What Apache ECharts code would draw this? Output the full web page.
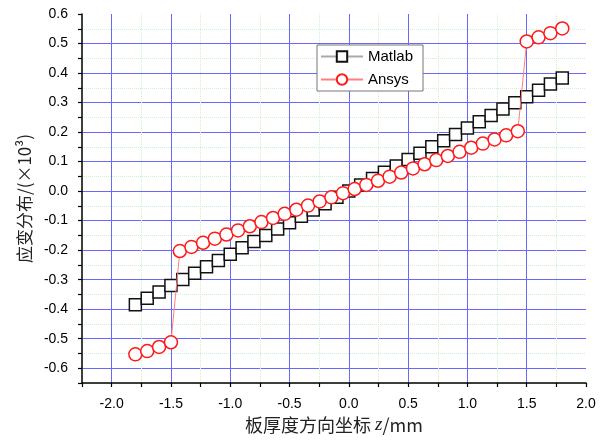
<!DOCTYPE html>
<html>
<head>
<meta charset="utf-8">
<script src="https://cdn.jsdelivr.net/npm/echarts@6/dist/echarts.min.js"></script>
<style>
  html, body { margin: 0; padding: 0; background: #fff; }
  #chart { width: 605px; height: 441px; }
</style>
</head>
<body>
<div id="chart"></div>
<script>
// Matlab 结果
var matlabX = [-1.8, -1.7, -1.6, -1.5, -1.4, -1.3, -1.2, -1.1, -1.0, -0.9, -0.8, -0.7, -0.6, -0.5, -0.4, -0.3, -0.2, -0.1, 0,
  0.1, 0.2, 0.3, 0.4, 0.5, 0.6, 0.7, 0.8, 0.9, 1.0, 1.1, 1.2, 1.3, 1.4, 1.5, 1.6, 1.7, 1.8]
var matlabY = [-0.385, -0.363, -0.342, -0.320, -0.299, -0.278, -0.256, -0.235, -0.214, -0.192, -0.171, -0.150, -0.128, -0.107, -0.085, -0.064, -0.043, -0.021, 0,
  0.021, 0.043, 0.064, 0.085, 0.107, 0.128, 0.150, 0.171, 0.192, 0.214, 0.235, 0.256, 0.278, 0.299, 0.320, 0.342, 0.363, 0.383]
// Ansys 结果
var ansysX = [-1.8, -1.7, -1.6, -1.5,
  -1.425, -1.327, -1.229, -1.130, -1.032, -0.934, -0.835, -0.737, -0.639, -0.541, -0.442, -0.344, -0.246, -0.147, -0.049,
  0.049, 0.147, 0.246, 0.344, 0.442, 0.541, 0.639, 0.737, 0.835, 0.934, 1.032, 1.130, 1.229, 1.327, 1.425,
  1.5, 1.6, 1.7, 1.8]
var ansysY = [-0.553, -0.542, -0.528, -0.512,
  -0.203, -0.189, -0.175, -0.161, -0.147, -0.133, -0.119, -0.105, -0.091, -0.077, -0.063, -0.049, -0.035, -0.021, -0.007,
  0.007, 0.021, 0.035, 0.049, 0.063, 0.077, 0.091, 0.105, 0.119, 0.133, 0.147, 0.161, 0.175, 0.189, 0.203,
  0.507, 0.521, 0.535, 0.551]

var xMin = -2.25
var xMax = 2.0
var yMin = -0.65
var yMax = 0.6

function pairs (xs, ys) {
  return xs.map(function (x, i) { return [x, ys[i]] })
}

var labelFont = 'Liberation Sans, Arial, sans-serif'
var blue = '#6868ff'
var green = '#cdf2cd'
var clear = 'rgba(0,0,0,0)'

var chart = echarts.init(document.getElementById('chart'))

var option = {
  backgroundColor: '#fff',
  animation: false,
  grid: { left: 82, right: 19, top: 14, bottom: 58 },
  legend: {
    orient: 'vertical',
    left: 317,
    top: 45,
    backgroundColor: '#fff',
    borderColor: '#777',
    borderWidth: 1,
    borderRadius: 0,
    padding: [4, 10, 4, 3],
    itemWidth: 42,
    itemHeight: 13,
    itemGap: 8,
    textStyle: { fontFamily: labelFont, fontSize: 15, color: '#000' },
    data: ['Matlab', 'Ansys']
  },
  xAxis: [
    {
      type: 'value',
      min: xMin,
      max: xMax,
      interval: 0.25,
      name: '{a|板厚度方向坐标 }{b|z}{a|/mm}',
      nameLocation: 'middle',
      nameGap: 23,
      nameTextStyle: {
        rich: {
          a: { fontFamily: 'Noto Sans CJK SC', fontSize: 18, color: '#222' },
          b: { fontFamily: 'Liberation Serif', fontStyle: 'italic', fontSize: 19, color: '#222' }
        }
      },
      axisLine: { onZero: false, lineStyle: { color: '#000', width: 1.5 } },
      axisTick: { inside: false, length: 4, lineStyle: { color: '#000', width: 1.2 } },
      axisLabel: {
        margin: 14,
        fontFamily: labelFont,
        fontSize: 14,
        color: '#000',
        formatter: function (v) {
          if (v < -2.1) return ''
          return Math.abs(v * 2 - Math.round(v * 2)) < 1e-6 ? (Math.round(v * 10) / 10).toFixed(1) : ''
        }
      },
      splitLine: { show: true, showMaxLine: false, lineStyle: { color: [green, clear], type: 'dotted', width: 1 } }
    },
    {
      type: 'value',
      min: xMin,
      max: xMax,
      interval: 0.25,
      axisLine: { show: false },
      axisTick: { show: false },
      axisLabel: { show: false },
      splitLine: { show: true, showMaxLine: false, lineStyle: { color: [clear, blue], width: 1 } }
    }
  ],
  yAxis: [
    {
      type: 'value',
      min: yMin,
      max: yMax,
      interval: 0.05,
      name: '应变分布/(×10³)',
      nameLocation: 'middle',
      nameRotate: 90,
      nameGap: 44,
      nameTextStyle: { fontFamily: 'Noto Sans CJK SC', fontSize: 17, color: '#222' },
      axisLine: { onZero: false, lineStyle: { color: '#000', width: 1.5 } },
      axisTick: { inside: false, length: 4, lineStyle: { color: '#000', width: 1.2 } },
      axisLabel: {
        margin: 14,
        fontFamily: labelFont,
        fontSize: 14,
        color: '#000',
        formatter: function (v) {
          return Math.abs(v * 10 - Math.round(v * 10)) < 1e-6 ? (Math.round(v * 10) / 10).toFixed(1) : ''
        }
      },
      splitLine: { show: true, showMaxLine: false, lineStyle: { color: [green, clear], type: 'dotted', width: 1 } }
    },
    {
      type: 'value',
      min: yMin,
      max: yMax,
      interval: 0.05,
      axisLine: { show: false },
      axisTick: { show: false },
      axisLabel: { show: false },
      splitLine: { show: true, showMaxLine: false, lineStyle: { color: [clear, blue], width: 1 } }
    }
  ],
  series: [
    {
      name: 'Matlab',
      type: 'line',
      xAxisIndex: 0,
      yAxisIndex: 0,
      data: pairs(matlabX, matlabY),
      symbol: 'rect',
      symbolSize: 12,
      showAllSymbol: true,
      lineStyle: { color: '#aaaaaa', width: 1 },
      itemStyle: { color: '#fff', borderColor: '#111', borderWidth: 1.5 },
      z: 3
    },
    {
      name: 'Ansys',
      type: 'line',
      xAxisIndex: 0,
      yAxisIndex: 0,
      data: pairs(ansysX, ansysY),
      symbol: 'circle',
      symbolSize: 13,
      showAllSymbol: true,
      lineStyle: { color: '#ff8080', width: 1 },
      itemStyle: { color: '#fff', borderColor: '#ff1a1a', borderWidth: 1.5 },
      z: 4
    }
  ]
}

chart.setOption(option)
</script>
</body>
</html>
